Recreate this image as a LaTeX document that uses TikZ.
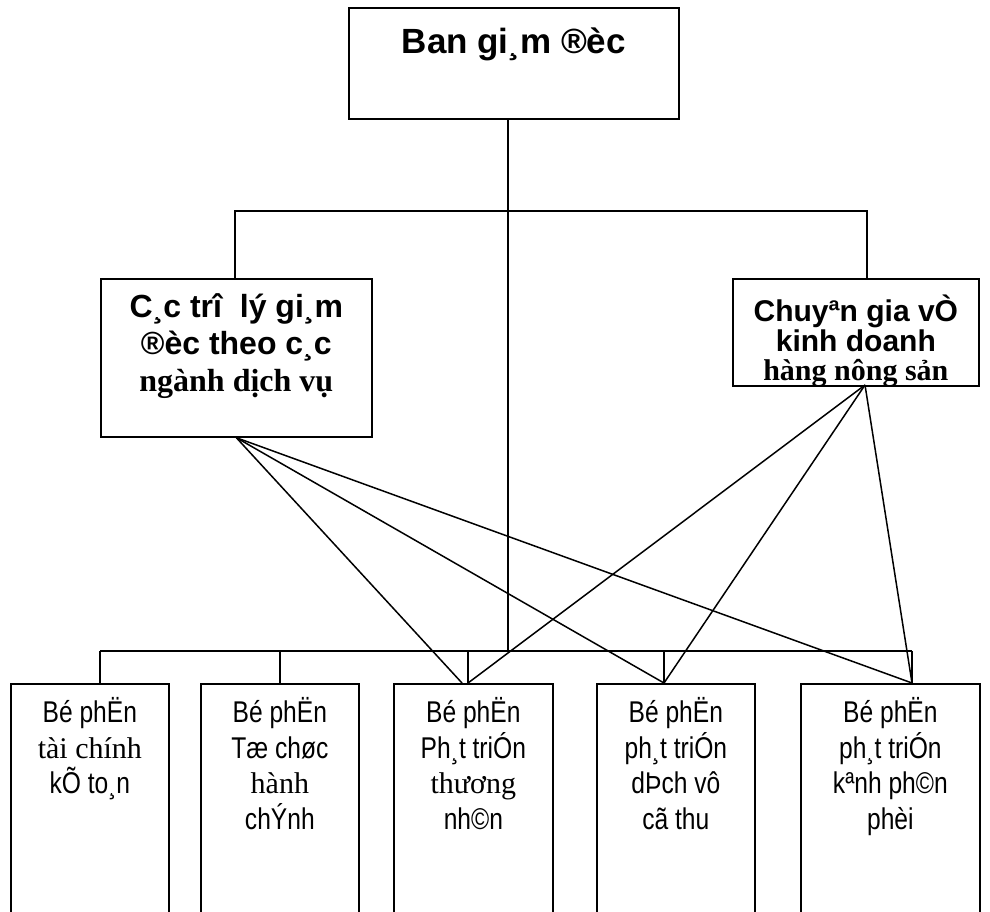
\documentclass[tikz,border=0pt]{standalone}
\usepackage{fontspec}
\setmainfont{Liberation Serif}
\newfontfamily\arialfont{Liberation Sans}
\newfontfamily\hepfont[FakeStretch=0.82]{Liberation Sans}

\newcommand{\hopchu}[4]{\begin{minipage}[t][#2][t]{#1}\centering\rule{0pt}{#3}#4\end{minipage}}

\begin{document}
\begin{tikzpicture}[x=1pt,y=1pt,
  khung/.style={draw,line width=1.7pt,inner sep=0pt,anchor=north west},
  noi/.style={line width=1.5pt}]
  \useasboundingbox (0,0) rectangle (990,-911);
  \clip (0,0) rectangle (990,-911);

  % cap tren
  \node[khung] (bgd) at (348,-7) {\hopchu{330pt}{111pt}{46pt}{%
    \arialfont\bfseries\fontsize{35}{40}\selectfont Ban gi¸m ®èc}};
  \node[khung] (trolv) at (100,-278) {\hopchu{271pt}{158pt}{39pt}{%
    \fontsize{32}{37}\selectfont
    {\arialfont\bfseries C¸c trî~ lý gi¸m}\\
    {\arialfont\bfseries ®èc theo c¸c}\\
    \textbf{ngành dịch vụ}}};
  \node[khung] (chuyengia) at (732,-278) {\hopchu{246pt}{107pt}{43pt}{%
    \fontsize{30}{29.5}\selectfont
    {\arialfont\bfseries Chuyªn gia vÒ}\\
    {\arialfont\bfseries kinh doanh}\\
    \textbf{hàng nông sản}}};

  % cac bo phan
  \node[khung] (bp1) at (10,-683) {\hopchu{158pt}{260pt}{39pt}{%
    \fontsize{30}{35.5}\selectfont
    {\hepfont Bé phËn}\\ tài chính\\ {\hepfont kÕ to¸n}}};
  \node[khung] (bp2) at (200,-683) {\hopchu{158pt}{260pt}{39pt}{%
    \fontsize{30}{35.5}\selectfont
    {\hepfont Bé phËn}\\ {\hepfont Tæ chøc}\\ hành\\ {\hepfont chÝnh}}};
  \node[khung] (bp3) at (393,-683) {\hopchu{159pt}{260pt}{39pt}{%
    \fontsize{30}{35.5}\selectfont
    {\hepfont Bé phËn}\\ {\hepfont Ph¸t triÓn}\\ thương\\ {\hepfont nh©n}}};
  \node[khung] (bp4) at (596,-683) {\hopchu{158pt}{260pt}{39pt}{%
    \fontsize{30}{35.5}\selectfont
    {\hepfont Bé phËn}\\ {\hepfont ph¸t triÓn}\\ {\hepfont dÞch vô}\\ {\hepfont cã thu}}};
  \node[khung] (bp5) at (800,-683) {\hopchu{179pt}{260pt}{39pt}{%
    \fontsize{30}{35.5}\selectfont
    {\hepfont Bé phËn}\\ {\hepfont ph¸t triÓn}\\ {\hepfont kªnh ph©n}\\ {\hepfont phèi}}};

  % duong noi
  \coordinate (truc) at (508,-118);
  \coordinate (ngangL) at (235,-211);
  \coordinate (ngangR) at (867,-211);
  \coordinate (busL) at (100,-651);
  \coordinate (busR) at (912,-651);
  \coordinate (cg) at (865,-385);
  \draw[noi] (truc) -- (truc |- busL);
  \draw[noi] (ngangL |- trolv.north) -- (ngangL) -- (ngangR) -- (ngangR |- chuyengia.north);
  \draw[noi] (busL) -- (busR);
  \foreach \i/\x in {1/100,2/280,3/468,4/664,5/912}{
    \coordinate (dinh\i) at (\x,-683);
    \draw[noi] (dinh\i |- busL) -- (dinh\i);
  }
  \coordinate (dinh3l) at (462,-683);
  \foreach \d in {dinh3l,dinh4,dinh5}
    \draw[noi] (trolv.south) -- (\d);
  \foreach \d in {dinh3,dinh4,dinh5}
    \draw[noi] (cg) -- (\d);
\end{tikzpicture}
\end{document}
